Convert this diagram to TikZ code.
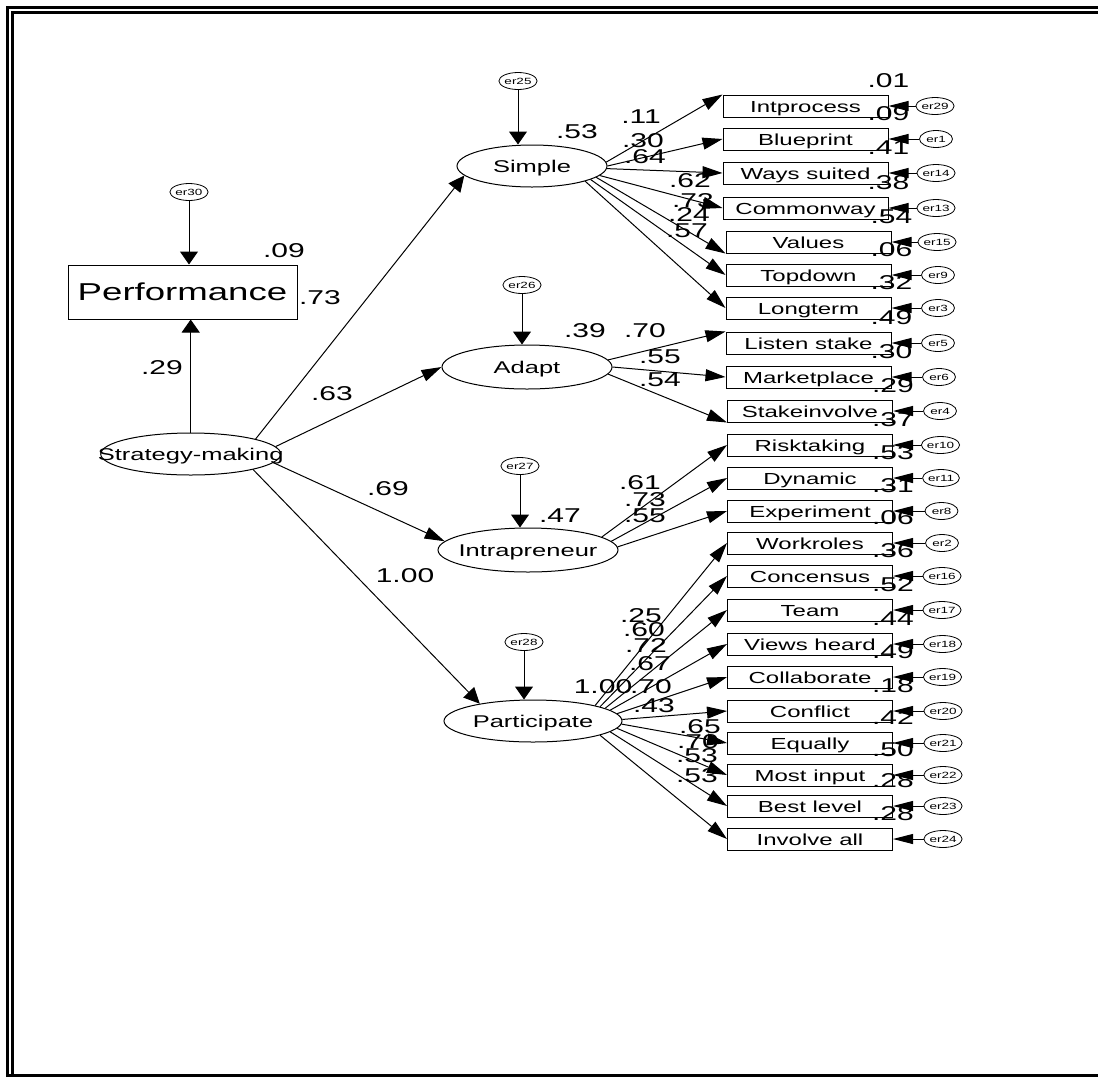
\documentclass[tikz,border=0pt]{standalone}
\usepackage{fontspec}
\setmainfont[FakeStretch=1.5]{Liberation Sans}
\usetikzlibrary{shapes.geometric,arrows.meta}

\tikzset{
  latent/.style={draw, ellipse, inner sep=0pt, line width=0.5pt},
  lname/.style={font=\fontsize{8.5}{8.5}\selectfont, inner sep=0pt, text height=6.1pt, text depth=0pt},
  obs/.style={draw, rectangle, minimum width=82.5pt, minimum height=11pt, inner sep=0pt,
    line width=0.5pt, font=\fontsize{8}{8}\selectfont, text height=6pt, text depth=0pt},
  err/.style={draw, ellipse, minimum width=16.5pt, minimum height=8.5pt, inner sep=0pt,
    line width=0.4pt, font=\fontsize{4.5}{4.5}\selectfont, text height=3.3pt, text depth=0pt},
  coef/.style={inner sep=0pt, font=\fontsize{10}{10}\selectfont},
  r2/.style={coef, yshift=7pt},
  load/.style={-{Triangle[length=10pt,width=6pt]}, line width=0.5pt},
  slant/.style={-{Triangle[length=8pt,width=7.5pt]}, line width=0.5pt},
  errh/.style={-{Triangle[length=10pt,width=5pt]}, line width=0.5pt},
  errv/.style={-{Triangle[length=6.5pt,width=9pt]}, line width=0.5pt}
}

\begin{document}
\begin{tikzpicture}[x=0.5pt, y=-0.5pt]
  \useasboundingbox (0,0) rectangle (1098,1077);
  % frame
  \draw[line width=1.5pt] (7.5,1077) -- (7.5,7.5) -- (1098,7.5);
  \draw[line width=1.5pt] (12.5,1075.5) -- (12.5,12.5) -- (1098,12.5);
  \draw[line width=1.5pt] (7.5,1075.5) -- (1098,1075.5);

  % Performance and Strategy-making
  \node[obs, minimum width=114.5pt, minimum height=27pt, font=\fontsize{12.2}{12.2}\selectfont, text height=8.7pt] (perf) at (182.5,292) {Performance};
  \node[err] (er30) at (189,192) {er30};
  \node[latent, minimum width=90pt, minimum height=21pt, label={[lname]center:Strategy-making}] (strat) at (190.7,454) {};

  % latent factors
  \node[latent, minimum width=75pt, minimum height=21pt, label={[lname]center:Simple}] (simple) at (532,166) {};
  \node[latent, minimum width=85pt, minimum height=22pt, label={[lname]center:Adapt}] (adapt) at (527,367) {};
  \node[latent, minimum width=90pt, minimum height=22pt, label={[lname]center:Intrapreneur}] (intra) at (528,550) {};
  \node[latent, minimum width=89pt, minimum height=21pt, label={[lname]center:Participate}] (part) at (533,721) {};
  \node[err] (er25) at (518,81) {er25}; \node[err] (er26) at (522,285) {er26};
  \node[err] (er27) at (520,466) {er27}; \node[err] (er28) at (524,642) {er28};

  % Simple items
  \node[obs] (intprocess) at (805.5,106) {Intprocess}; \node[obs] (blueprint) at (805.5,139) {Blueprint};
  \node[obs] (ways) at (805.5,173) {Ways suited}; \node[obs] (commonway) at (805.5,208) {Commonway};
  \node[obs] (values) at (808.5,242) {Values}; \node[obs] (topdown) at (808.5,275) {Topdown};
  \node[obs] (longterm) at (808.5,308) {Longterm};
  % Adapt items
  \node[obs] (listen) at (808.5,343) {Listen stake}; \node[obs] (market) at (808.5,377) {Marketplace};
  \node[obs] (stakeinv) at (810,411) {Stakeinvolve};
  % Intrapreneur items
  \node[obs] (risk) at (810,445) {Risktaking}; \node[obs] (dynamic) at (810,478) {Dynamic};
  \node[obs] (experiment) at (810,511) {Experiment};
  % Participate items
  \node[obs] (workroles) at (810,543) {Workroles}; \node[obs] (concensus) at (810,576) {Concensus};
  \node[obs] (team) at (810,610) {Team}; \node[obs] (views) at (810,644) {Views heard};
  \node[obs] (collab) at (810,677) {Collaborate}; \node[obs] (conflict) at (810,711) {Conflict};
  \node[obs] (equally) at (810,743) {Equally}; \node[obs] (mostinput) at (810,775) {Most input};
  \node[obs] (bestlevel) at (810,806) {Best level}; \node[obs] (involve) at (810,839) {Involve all};

  % error terms of the items
  \node[err] (er29) at (935,106) {er29}; \node[err] (er1) at (936,139) {er1};
  \node[err] (er14) at (936,173) {er14}; \node[err] (er13) at (936,208) {er13};
  \node[err] (er15) at (937,242) {er15}; \node[err] (er9) at (938,275) {er9};
  \node[err] (er3) at (938,308) {er3}; \node[err] (er5) at (938,343) {er5};
  \node[err] (er6) at (939,377) {er6}; \node[err] (er4) at (940,411) {er4};
  \node[err] (er10) at (940.5,445) {er10}; \node[err] (er11) at (941,478) {er11};
  \node[err] (er8) at (941.5,511) {er8}; \node[err] (er2) at (942,543) {er2};
  \node[err] (er16) at (942,576) {er16}; \node[err] (er17) at (942,610) {er17};
  \node[err] (er18) at (942.5,644) {er18}; \node[err] (er19) at (942.5,677) {er19};
  \node[err] (er20) at (943,711) {er20}; \node[err] (er21) at (943,743) {er21};
  \node[err] (er22) at (943,775) {er22}; \node[err] (er23) at (943,806) {er23};
  \node[err] (er24) at (943,839) {er24};

  % structural paths
  \draw[errv] (er30) -- (er30 |- perf.north);
  \draw[errv] (strat.north) -- (strat.north |- perf.south);
  \draw[slant] (strat.13) -- (simple.188);
  \draw[load] (strat.5) -- (adapt.west);
  \draw[load] (strat.-6) -- (intra.174);
  \draw[slant] (strat.-14) -- (part.162);
  \draw[errv] (er25) -- (er25 |- simple.north); \draw[errv] (er26) -- (er26 |- adapt.north);
  \draw[errv] (er27) -- (er27 |- intra.north); \draw[errv] (er28) -- (er28 |- part.north);

  % loadings
  \draw[load] (simple.3) -- (intprocess.north west); \draw[load] (simple.0) -- (blueprint.west);
  \draw[load] (simple.-2) -- (ways.west); \draw[load] (simple.-8) -- (commonway.west);
  \draw[load] (simple.-10) -- (values.south west); \draw[load] (simple.-13) -- (topdown.west);
  \draw[load] (simple.-16) -- (longterm.west);
  \draw[load] (adapt.5) -- (listen.north west); \draw[load] (adapt.0) -- (market.west);
  \draw[load] (adapt.-5) -- (stakeinv.south west);
  \draw[load] (intra.10) -- (risk.west); \draw[load] (intra.6) -- (dynamic.west);
  \draw[load] (intra.2) -- (experiment.west);
  \draw[load] (part.14) -- (workroles.west); \draw[load] (part.12) -- (concensus.west);
  \draw[load] (part.10) -- (team.west); \draw[load] (part.8) -- (views.west);
  \draw[load] (part.5) -- (collab.west); \draw[load] (part.1) -- (conflict.west);
  \draw[load] (part.-2) -- (equally.west); \draw[load] (part.-5) -- (mostinput.west);
  \draw[load] (part.-8) -- (bestlevel.west); \draw[load] (part.-12) -- (involve.west);

  % error arrows
  \foreach \e/\b in {er29/intprocess, er1/blueprint, er14/ways, er13/commonway, er15/values,
      er9/topdown, er3/longterm, er5/listen, er6/market, er4/stakeinv, er10/risk, er11/dynamic,
      er8/experiment, er2/workroles, er16/concensus, er17/team, er18/views, er19/collab,
      er20/conflict, er21/equally, er22/mostinput, er23/bestlevel, er24/involve}
    \draw[errh] (\e) -- (\b.east);

  % estimates on structural paths
  \node[coef] (c29) at (162,368) {.29}; \node[coef] (c73) at (320,298) {.73};
  \node[coef] (c63) at (332,394) {.63}; \node[coef] (c69) at (388,489) {.69};
  \node[coef] (c100) at (405,576) {1.00}; \node[coef] (rperf) at (284,251) {.09};
  \node[coef] (rsimple) at (577,132) {.53}; \node[coef] (radapt) at (585,331) {.39};
  \node[coef] (rintra) at (560,516) {.47}; \node[coef] (rpart) at (603,687) {1.00};

  % loading estimates
  \node[coef] (s1) at (641,117) {.11}; \node[coef] (s2) at (643,141) {.30};
  \node[coef] (s3) at (645,157) {.64}; \node[coef] (s4) at (690,181) {.62};
  \node[coef] (s5) at (693,201) {.73}; \node[coef] (s6) at (689,215) {.24};
  \node[coef] (s7) at (687,231) {.57};
  \node[coef] (a1) at (645,331) {.70}; \node[coef] (a2) at (660,357) {.55};
  \node[coef] (a3) at (660,380) {.54};
  \node[coef] (i1) at (640,483) {.61}; \node[coef] (i2) at (645,500) {.73};
  \node[coef] (i3) at (645,516) {.55};
  \node[coef] (p1) at (641,616) {.25}; \node[coef] (p2) at (644,630) {.60};
  \node[coef] (p3) at (646,646) {.72}; \node[coef] (p4) at (650,664) {.67};
  \node[coef] (p5) at (651,687) {.70}; \node[coef] (p6) at (654,706) {.43};
  \node[coef] (p7) at (700,727) {.65}; \node[coef] (p8) at (698,742) {.70};
  \node[coef] (p9) at (697,756) {.53}; \node[coef] (p10) at (697,776) {.53};

  % squared multiple correlations of the items
  \node[r2] (rintprocess) at (intprocess.north east) {.01}; \node[r2] (rblueprint) at (blueprint.north east) {.09};
  \node[r2] (rways) at (ways.north east) {.41}; \node[r2] (rcommonway) at (commonway.north east) {.38};
  \node[r2] (rvalues) at (values.north east) {.54}; \node[r2] (rtopdown) at (topdown.north east) {.06};
  \node[r2] (rlongterm) at (longterm.north east) {.32}; \node[r2] (rlisten) at (listen.north east) {.49};
  \node[r2] (rmarket) at (market.north east) {.30}; \node[r2] (rstakeinv) at (stakeinv.north east) {.29};
  \node[r2] (rrisk) at (risk.north east) {.37}; \node[r2] (rdynamic) at (dynamic.north east) {.53};
  \node[r2] (rexperiment) at (experiment.north east) {.31}; \node[r2] (rworkroles) at (workroles.north east) {.06};
  \node[r2] (rconcensus) at (concensus.north east) {.36}; \node[r2] (rteam) at (team.north east) {.52};
  \node[r2] (rviews) at (views.north east) {.44}; \node[r2] (rcollab) at (collab.north east) {.49};
  \node[r2] (rconflict) at (conflict.north east) {.18}; \node[r2] (requally) at (equally.north east) {.42};
  \node[r2] (rmostinput) at (mostinput.north east) {.50}; \node[r2] (rbestlevel) at (bestlevel.north east) {.28};
  \node[r2] (rinvolve) at (involve.north east) {.28};
\end{tikzpicture}
\end{document}
